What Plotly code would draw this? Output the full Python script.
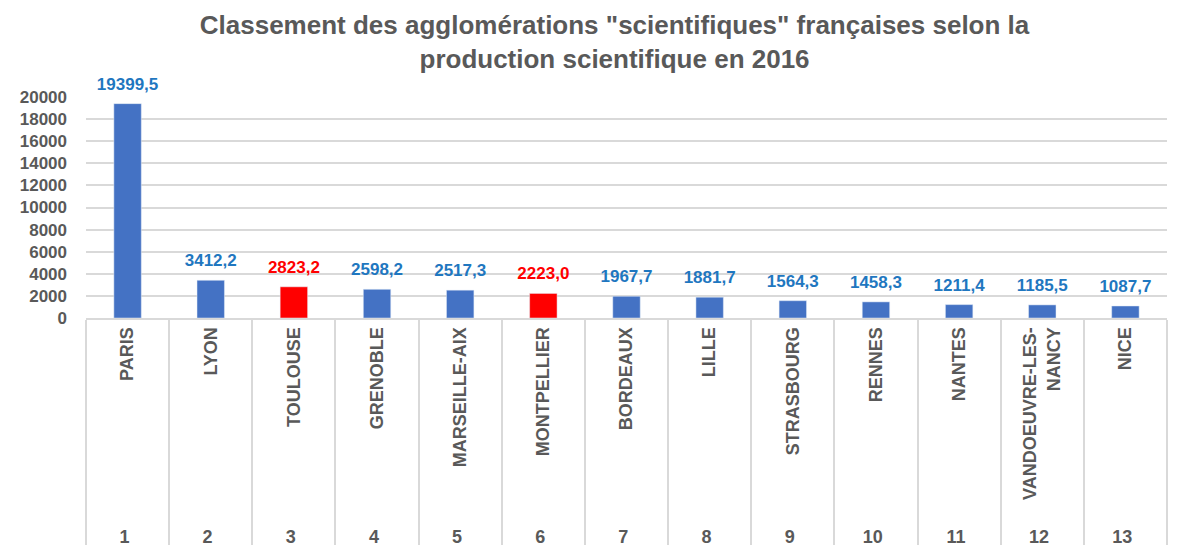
import plotly.graph_objects as go

# data
villes = ["PARIS", "LYON", "TOULOUSE", "GRENOBLE", "MARSEILLE-AIX", "MONTPELLIER",
          "BORDEAUX", "LILLE", "STRASBOURG", "RENNES", "NANTES",
          "\u2002VANDOEUVRE-LES-<br>NANCY", "NICE"]
rangs = [str(i) for i in range(1, 14)]
production = [19399.5, 3412.2, 2823.2, 2598.2, 2517.3, 2223.0, 1967.7,
              1881.7, 1564.3, 1458.3, 1211.4, 1185.5, 1087.7]
occitanie = ["TOULOUSE", "MONTPELLIER"]

BLUE = "#4472C4"
RED = "#FF0000"
LABEL_BLUE = "#1F77C0"
GREY = "#595959"

bar_colors = [RED if v in occitanie else BLUE for v in villes]
text_colors = [RED if v in occitanie else LABEL_BLUE for v in villes]

fig = go.Figure()
fig.add_trace(go.Bar(
    x=[rangs, villes],
    y=production,
    marker=dict(color=bar_colors),
    hoverinfo="x+y",
))
# value labels, lifted off the bars by an invisible marker
fig.add_trace(go.Scatter(
    x=[rangs, villes],
    y=production,
    mode="markers+text",
    marker=dict(size=14, color="rgba(0,0,0,0)"),
    texttemplate="%{y:.1f}",
    textposition="top center",
    textfont=dict(family="Liberation Sans", size=17, color=text_colors, weight="bold"),
    cliponaxis=False,
    hoverinfo="skip",
))

fig.update_layout(
    width=1194,
    height=545,
    separators=", ",
    plot_bgcolor="white",
    paper_bgcolor="white",
    bargap=0.67,
    showlegend=False,
    font=dict(family="Liberation Sans", color=GREY),
    title=dict(
        text="<b>Classement des agglomérations \"scientifiques\" françaises selon la<br>production scientifique en 2016</b>",
        x=0.508, xanchor="center", y=0.952, yanchor="top",
        font=dict(size=26, color=GREY),
    ),
    margin=dict(l=74, r=35, t=89, b=235),
    xaxis=dict(
        type="multicategory",
        range=[-0.5, len(villes) - 0.5],
        automargin=False,
        tickangle=-90,
        tickfont=dict(size=18, color=GREY, weight="bold"),
        showline=True, linecolor="#D9D9D9", linewidth=2,
        showdividers=True, dividercolor="#D9D9D9", dividerwidth=2,
        ticks="",
    ),
    yaxis=dict(
        range=[0, 20000],
        dtick=2000,
        tickformat="d",
        tickfont=dict(size=17, color=GREY, weight="bold"),
        gridcolor="#D9D9D9", gridwidth=2,
        zeroline=False,
        ticklabelstandoff=18,
    ),
)

fig.write_html("out.html")
